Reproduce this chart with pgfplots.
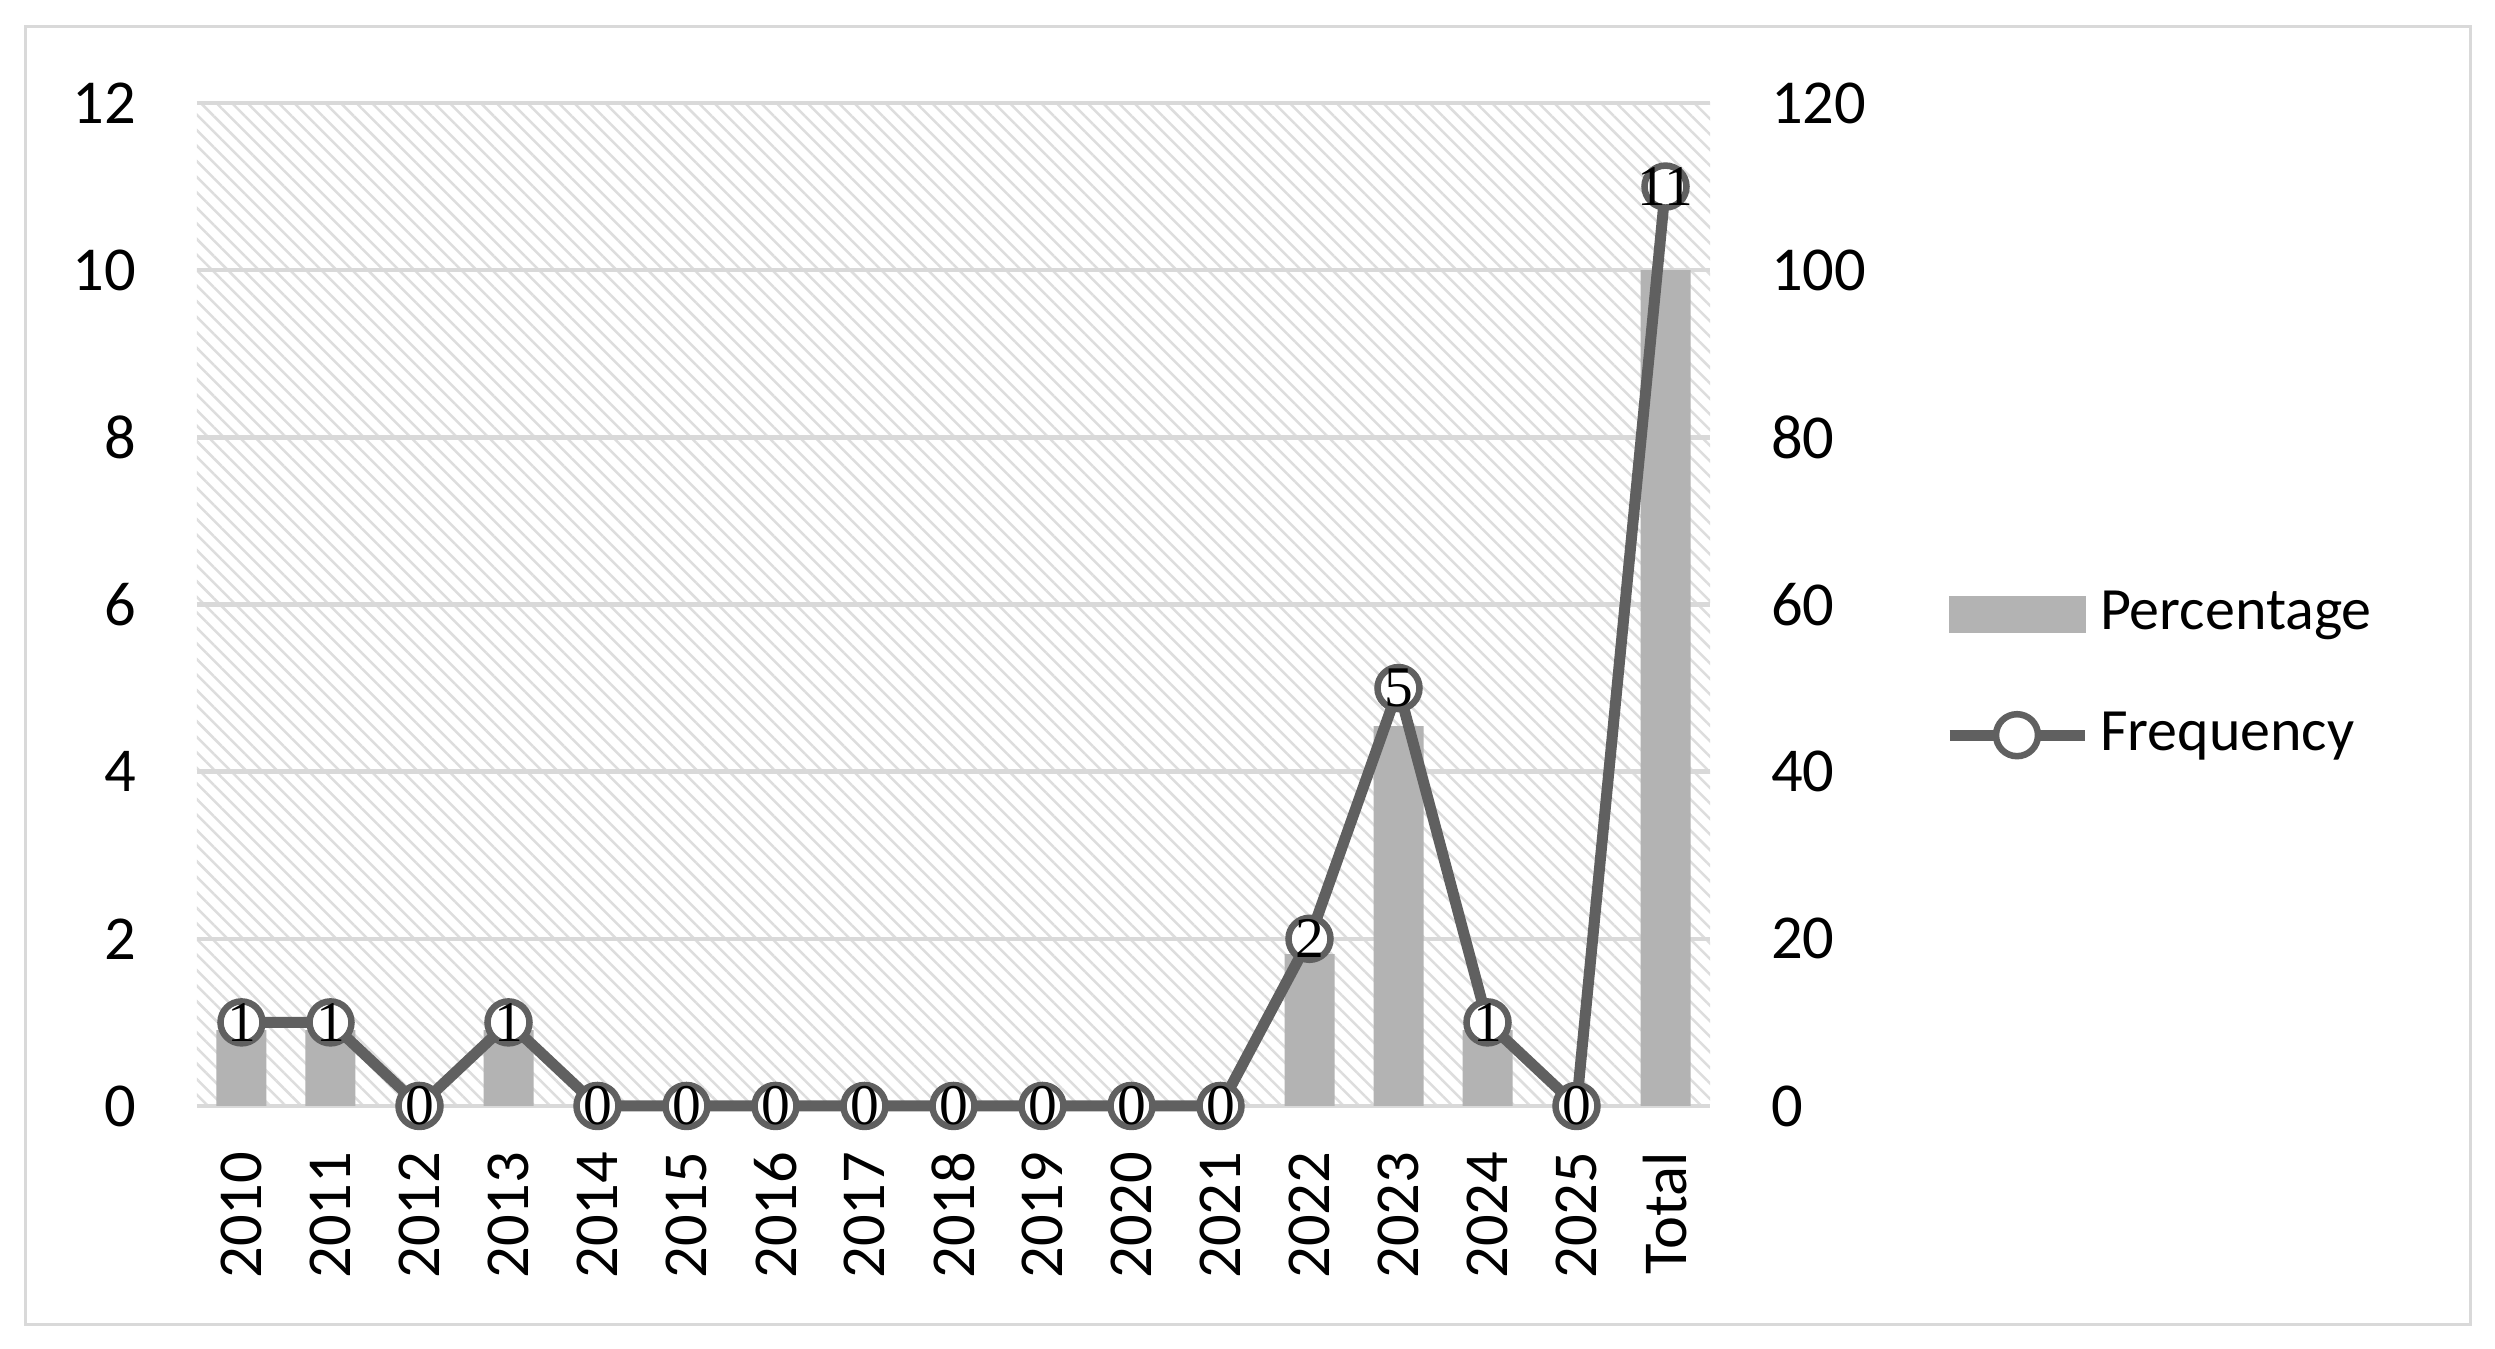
\documentclass[border=0pt]{standalone}
\usepackage{pgfplots}
\pgfplotsset{compat=1.18}
\usetikzlibrary{patterns.meta}
\usepackage{fontspec}
\setmainfont{Carlito}
\newfontfamily\labfont{Liberation Serif}
\definecolor{barc}{HTML}{B3B3B3}
\definecolor{linec}{HTML}{606060}
\definecolor{gridc}{HTML}{D9D9D9}
\definecolor{hatchc}{HTML}{DDDDDD}
\definecolor{framec}{HTML}{D9D9D9}
\pgfplotsset{
  mylegline/.style={legend image code/.code={\draw[mark repeat=2,mark phase=2,##1] plot coordinates {(0pt,0pt) (13.5pt,0pt) (27pt,0pt)};}},
  mylegbar/.style={legend image code/.code={\fill[barc] (0pt,-3.5pt) rectangle (27pt,3.5pt);}},
}
\begin{document}
\begin{tikzpicture}
\useasboundingbox (0,0) rectangle (499pt,269.8pt);
\fill[white] (0,0) rectangle (499pt,269.8pt);
\draw[framec, line width=0.6pt] (5pt,4.8pt) rectangle (494pt,264.4pt);
\pgfplotsset{
  common/.style={
    at={(39.4pt,48.6pt)}, anchor=south west,
    width=302.6pt, height=200.6pt, scale only axis,
    xmin=-0.5, xmax=16.5, ymin=0,
    axis line style={draw=none}, major tick length=0pt,
    tick style={draw=none},
    /pgf/number format/assume math mode=true,
  }
}
\begin{axis}[common,
  ymax=120, ytick={0,20,...,120},
  yticklabel pos=right,
  yticklabel style={font=\fontsize{12.5}{14}\selectfont, inner sep=0pt, anchor=west},
  yticklabel shift=12pt,
  xtick=\empty,
  ymajorgrids, grid style={gridc, line width=0.9pt},
  axis background/.style={pattern={Lines[angle=-45,distance=2.2pt,line width=0.5pt]}, pattern color=hatchc},
  ybar, bar width=10pt,
]
\addplot[fill=barc, draw=none] coordinates {
(0,9.09) (1,9.09) (2,0) (3,9.09) (4,0) (5,0) (6,0) (7,0) (8,0) (9,0) (10,0) (11,0) (12,18.18) (13,45.45) (14,9.09) (15,0) (16,100)
};
\end{axis}
\begin{axis}[common,
  ymax=12, ytick={0,2,...,12},
  yticklabel style={font=\fontsize{12.5}{14}\selectfont, inner sep=0pt, anchor=east},
  yticklabel shift=12pt,
  xtick={0,...,16},
  xticklabels={2010,2011,2012,2013,2014,2015,2016,2017,2018,2019,2020,2021,2022,2023,2024,2025,Total},
  xticklabel style={rotate=90, anchor=east, inner sep=0pt, font=\fontsize{12.5}{14}\selectfont},
  xticklabel shift=9pt,
  clip=false,
  legend style={draw=none, fill=none, at={(1.154,0.43)}, anchor=west, inner sep=0pt,
    font=\fontsize{12}{14}\selectfont, row sep=11pt},
  legend cell align=left,
]
\addlegendimage{mylegbar}
\addlegendentry{Percentage}
\addplot[linec, line width=2.2pt, mark=*, mark size=4.2pt,
  mark options={fill=white, draw=linec, line width=1.3pt},
  nodes near coords,
  every node near coord/.append style={anchor=center, font=\labfont\fontsize{11.5}{12}\selectfont, text=black, inner sep=0pt},
  mylegline,
] coordinates {
(0,1) (1,1) (2,0) (3,1) (4,0) (5,0) (6,0) (7,0) (8,0) (9,0) (10,0) (11,0) (12,2) (13,5) (14,1) (15,0) (16,11)
};
\addlegendentry{Frequency}
\end{axis}
\end{tikzpicture}
\end{document}
